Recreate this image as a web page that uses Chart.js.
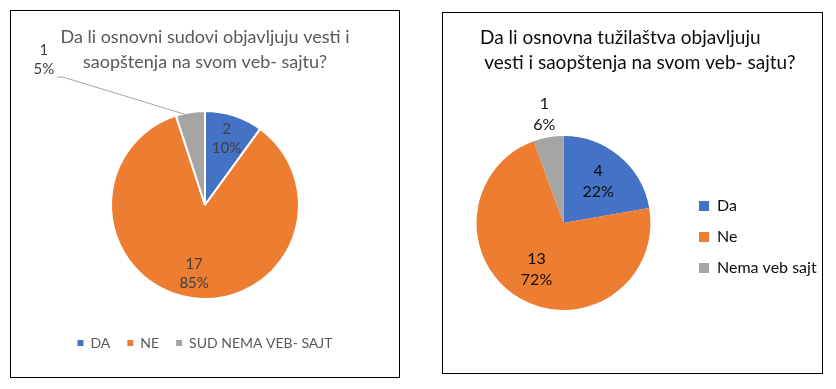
<!DOCTYPE html>
<html><head><meta charset="utf-8">
<script src="https://cdn.jsdelivr.net/npm/chart.js@4.4.1/dist/chart.umd.min.js"></script>
<style>
html,body{margin:0;padding:0;background:#fff;width:836px;height:389px;overflow:hidden}
.box{position:absolute;border:1px solid #000;background:#fff}
#b1{left:10px;top:10px;width:388px;height:366px}
#b2{left:442px;top:12px;width:379px;height:360px}
canvas{display:block}
</style></head><body>
<div class="box" id="b1"><canvas id="c1" width="388" height="366"></canvas></div>
<div class="box" id="b2"><canvas id="c2" width="379" height="360"></canvas></div>
<script>
const courtCategories = ['DA', 'NE', 'SUD NEMA VEB- SAJT'];
const courtValues = [2, 17, 1];
const courtTitle = ['Da li osnovni sudovi objavljuju vesti i', 'saopštenja na svom veb- sajtu?'];
const prosCategories = ['Da', 'Ne', 'Nema veb sajt'];
const prosValues = [4, 13, 1];
const prosTitle = ['Da li osnovna tužilaštva objavljuju     ', '   vesti i saopštenja na svom veb- sajtu?'];
const sliceColors = ['#4472C4', '#ED7D31', '#A5A5A5'];

const FONT = 'Lato';

const sliceLabels = {
  id: 'sliceLabels',
  afterDatasetsDraw(chart, args, opts) {
    const ctx = chart.ctx;
    const meta = chart.getDatasetMeta(0);
    const data = chart.data.datasets[0].data;
    const total = data.reduce((a, b) => a + b, 0);
    ctx.save();
    ctx.font = opts.font;
    ctx.textAlign = 'center';
    ctx.textBaseline = 'middle';
    meta.data.forEach((arc, i) => {
      const p = arc.getProps(['x', 'y', 'startAngle', 'endAngle', 'outerRadius'], true);
      const mid = (p.startAngle + p.endAngle) / 2;
      const cfg = (opts.place && opts.place[i]) || {};
      const f = cfg.radius !== undefined ? cfg.radius : opts.radius;
      let cx = p.x + Math.cos(mid) * p.outerRadius * f;
      let cy = p.y + Math.sin(mid) * p.outerRadius * f;
      if (cfg.dx !== undefined) {
        const ox = p.x + Math.cos(mid) * (p.outerRadius - 4);
        const oy = p.y + Math.sin(mid) * (p.outerRadius - 4);
        cx = ox + cfg.dx; cy = oy + cfg.dy;
        ctx.beginPath();
        ctx.strokeStyle = opts.leaderColor;
        ctx.lineWidth = 1;
        ctx.moveTo(cx + cfg.lx, cy + cfg.ly);
        ctx.lineTo(cx + cfg.lx + 6, cy + cfg.ly);
        ctx.lineTo(ox, oy);
        ctx.stroke();
      }
      ctx.fillStyle = opts.color;
      const pct = Math.round(data[i] / total * 100) + '%';
      ctx.fillText(String(data[i]), cx, cy - opts.lineGap / 2);
      ctx.fillText(pct, cx, cy + opts.lineGap / 2);
    });
    ctx.restore();
  }
};

function plainLegend(chart) {
  const items = Chart.overrides.doughnut.plugins.legend.labels.generateLabels(chart);
  items.forEach(it => { it.lineWidth = 0; it.strokeStyle = 'rgba(0,0,0,0)'; });
  return items;
}

new Chart(document.getElementById('c1'), {
  type: 'pie',
  data: {
    labels: courtCategories,
    datasets: [{ data: courtValues, backgroundColor: sliceColors, borderColor: '#ffffff', borderWidth: 2, radius: 94 }]
  },
  options: {
    responsive: false, animation: false, events: [],
    layout: { padding: { top: 0, bottom: 17, left: 0, right: 0 } },
    plugins: {
      title: {
        display: true, text: courtTitle, color: '#595959',
        font: { family: FONT, size: 18, weight: 'normal', lineHeight: '25px' },
        padding: { top: 13.5, bottom: 16.5 }
      },
      legend: {
        position: 'bottom',
        labels: {
          boxWidth: 6, boxHeight: 6, padding: 17, color: '#595959',
          font: { family: FONT, size: 14 },
          generateLabels: plainLegend
        }
      },
      tooltip: { enabled: false },
      sliceLabels: {
        font: '15px ' + FONT, color: '#404040', lineGap: 19, radius: 0.74, leaderColor: '#A6A6A6',
        place: { 2: { dx: -147, dy: -56, lx: 13, ly: 17 } }
      }
    }
  },
  plugins: [sliceLabels]
});

new Chart(document.getElementById('c2'), {
  type: 'pie',
  data: {
    labels: prosCategories,
    datasets: [{ data: prosValues, backgroundColor: sliceColors, borderWidth: 0, radius: 87 }]
  },
  options: {
    responsive: false, animation: false, events: [],
    layout: { padding: { top: 0, bottom: 2.5, left: 0, right: 0 } },
    plugins: {
      title: {
        display: true, text: prosTitle, color: '#0d0d0d',
        font: { family: FONT, size: 19, weight: 'normal', lineHeight: '25px' },
        padding: { top: 12.5, bottom: 0 }
      },
      legend: {
        position: 'right',
        fullSize: false,
        maxWidth: 138,
        title: { display: true, text: '', padding: 0, font: { family: FONT, size: 20, lineHeight: '28px' } },
        labels: {
          boxWidth: 10, boxHeight: 10, padding: 15, color: '#0d0d0d',
          font: { family: FONT, size: 16 },
          generateLabels: plainLegend
        }
      },
      tooltip: { enabled: false },
      sliceLabels: {
        font: '16px ' + FONT, color: '#0d0d0d', lineGap: 21, radius: 0.62,
        place: { 2: { radius: 1.27 } }
      }
    }
  },
  plugins: [sliceLabels]
});
</script>
</body></html>
